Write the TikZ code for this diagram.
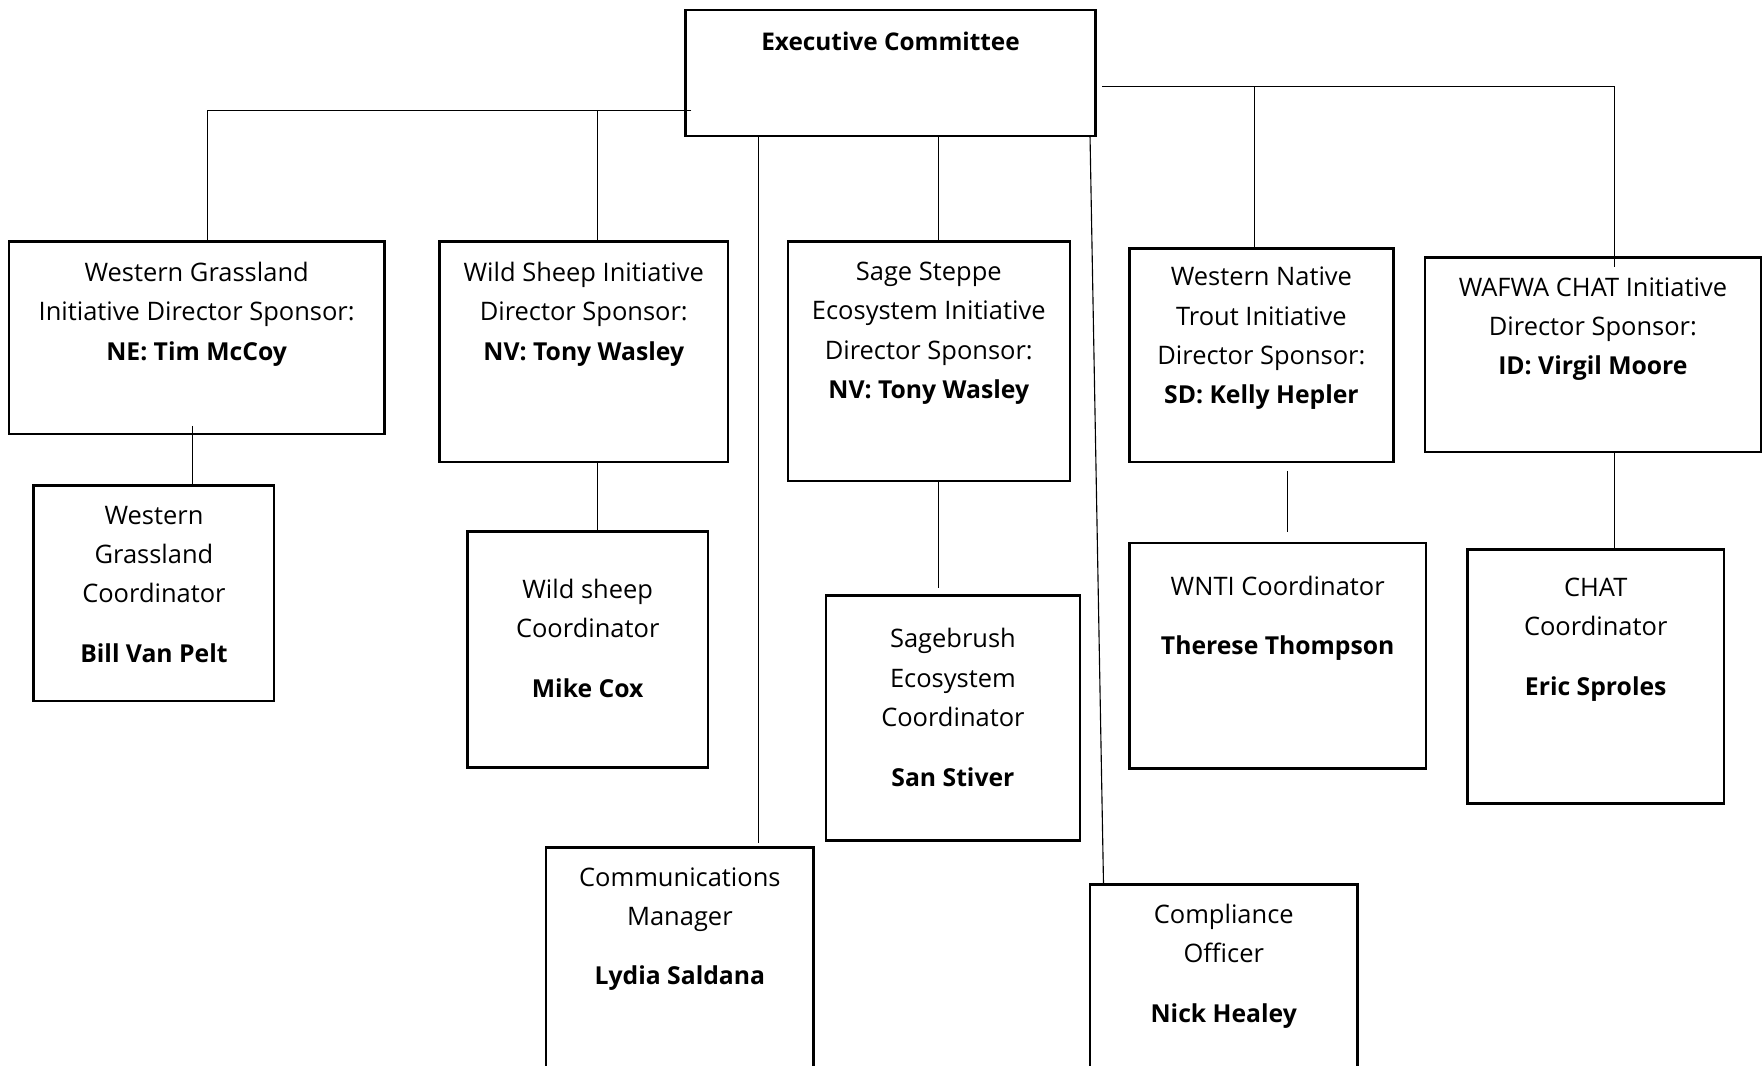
\documentclass[tikz,border=0pt]{standalone}
\usepackage{fontspec}
\setmainfont{Open Sans}
\usepackage{tikz}
\usetikzlibrary{positioning}

\def\unitpx{0.6pt}
\newcommand{\orgfont}{\fontsize{13.6}{21}\selectfont}
\newcommand{\headfont}{\fontsize{13}{21}\selectfont}
\newcommand{\who}[1]{{\fontsize{13.2}{21}\selectfont\bfseries #1}}

\tikzset{
  orgbox/.style={draw, line width=1.3pt, anchor=north west, inner sep=0pt, outer sep=0pt},
  orgtext/.style={align=center, font=\orgfont, anchor=base, inner sep=0pt, yshift=-2*\unitpx},
  link/.style={line width=0.6pt}
}

\begin{document}
\begin{tikzpicture}[x=0.6pt,y=-0.6pt]

\useasboundingbox (0,0) rectangle (1568,948);
\fill[white] (0,0) rectangle (1568,948);
\clip (0,0) rectangle (1568,948);

% top
\node[orgbox, minimum width=365*\unitpx, minimum height=112*\unitpx] (exec) at (610,9) {};
\node[orgtext, font=\headfont] (exectxt) at (792.5,42.5) {\textbf{Executive Committee}};

% initiatives
\node[orgbox, minimum width=334*\unitpx, minimum height=171*\unitpx] (wg) at (8,215) {};
\node[orgtext] (wgtxt) at (175,318.5) {Western Grassland\\Initiative Director Sponsor:\\\who{NE: Tim McCoy}};

\node[orgbox, minimum width=257*\unitpx, minimum height=196*\unitpx] (ws) at (391,215) {};
\node[orgtext] (wstxt) at (519.5,318.5) {Wild Sheep Initiative\\Director Sponsor:\\\who{NV: Tony Wasley}};

\node[orgbox, minimum width=251*\unitpx, minimum height=213*\unitpx] (ss) at (701,215) {};
\node[orgtext] (sstxt) at (826.5,352.5) {Sage Steppe\\Ecosystem Initiative\\Director Sponsor:\\\who{NV: Tony Wasley}};

\node[orgbox, minimum width=235*\unitpx, minimum height=190*\unitpx] (wn) at (1005,221) {};
\node[orgtext] (wntxt) at (1122.5,357.5) {Western Native\\Trout Initiative\\Director Sponsor:\\\who{SD: Kelly Hepler}};

\node[orgbox, minimum width=299*\unitpx, minimum height=173*\unitpx] (wafwa) at (1268,229) {};
\node[orgtext] (wafwatxt) at (1417.5,331.5) {WAFWA CHAT Initiative\\Director Sponsor:\\\who{ID: Virgil Moore}};

% coordinators
\node[orgbox, minimum width=214*\unitpx, minimum height=192*\unitpx] (wgc) at (30,432) {};
\node[orgtext] (wgctxt) at (137,587.5) {Western\\Grassland\\Coordinator\\[10.8pt]\who{Bill Van Pelt}};

\node[orgbox, minimum width=214*\unitpx, minimum height=210*\unitpx] (wsc) at (416,473) {};
\node[orgtext] (wsctxt) at (523,618.5) {Wild sheep\\Coordinator\\[10.8pt]\who{Mike Cox}};

\node[orgbox, minimum width=226*\unitpx, minimum height=218*\unitpx] (sb) at (735,530) {};
\node[orgtext] (sbtxt) at (848,697.5) {Sagebrush\\Ecosystem\\Coordinator\\[10.8pt]\who{San Stiver}};

\node[orgbox, minimum width=264*\unitpx, minimum height=201*\unitpx] (wnc) at (1005,483) {};
\node[orgtext] (wnctxt) at (1137,580.5) {WNTI Coordinator\\[10.8pt]\who{Therese Thompson}};

\node[orgbox, minimum width=228*\unitpx, minimum height=226*\unitpx] (chat) at (1306,489) {};
\node[orgtext] (chattxt) at (1420,616.5) {CHAT\\Coordinator\\[10.8pt]\who{Eric Sproles}};

% staff
\node[orgbox, minimum width=238*\unitpx, minimum height=260*\unitpx] (comm) at (486,754) {};
\node[orgtext] (commtxt) at (605,874.5) {Communications\\Manager\\[10.8pt]\who{Lydia Saldana}};

\node[orgbox, minimum width=238*\unitpx, minimum height=260*\unitpx] (co) at (970,787) {};
\node[orgtext] (cotxt) at (1089,907.5) {Compliance\\Officer\\[10.8pt]\who{Nick Healey}};

% connectors
\coordinate (lbar) at (615,98);
\coordinate (rbar) at (981,77);
\draw[link] (lbar) -| ([xshift=10*\unitpx]wg.north);
\draw[link] (lbar) -| ([xshift=12.5*\unitpx]ws.north);
\draw[link] (rbar) -| ([xshift=-6.5*\unitpx]wn.north);
\draw[link] (rbar) -| ([xshift=19.5*\unitpx,yshift=-9*\unitpx]wafwa.north);
\draw[link] ([xshift=42.5*\unitpx]exec.south) -- ([xshift=8.5*\unitpx]ss.north);
\draw[link] ([xshift=-117.5*\unitpx]exec.south) -- ([xshift=70*\unitpx,yshift=4*\unitpx]comm.north);
\draw[link] ([xshift=177.5*\unitpx]exec.south) -- ([xshift=-107*\unitpx]co.north);

\draw[link] ([xshift=-4*\unitpx,yshift=7*\unitpx]wg.south) -- ([xshift=34*\unitpx]wgc.north);
\draw[link] ([xshift=12.5*\unitpx]ws.south) -- ([xshift=9*\unitpx]wsc.north);
\draw[link] ([xshift=8.5*\unitpx]ss.south) -- ([xshift=-13*\unitpx,yshift=7*\unitpx]sb.north);
\draw[link] ([xshift=23.5*\unitpx,yshift=-8*\unitpx]wn.south) -- ([xshift=9*\unitpx,yshift=10*\unitpx]wnc.north);
\draw[link] ([xshift=19.5*\unitpx]wafwa.south) -- ([xshift=17*\unitpx]chat.north);

\end{tikzpicture}
\end{document}
